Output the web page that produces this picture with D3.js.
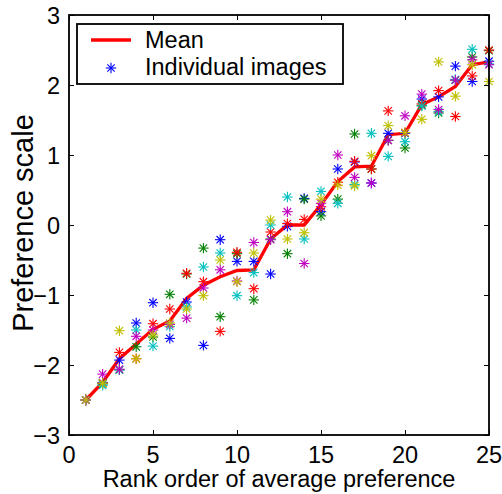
<!DOCTYPE html>
<html>
<head>
<meta charset="utf-8">
<script src="https://cdn.jsdelivr.net/npm/d3@7"></script>
<style>
  html, body { margin: 0; padding: 0; background: #fff; }
  svg { display: block; }
  text { font-family: "Liberation Sans", Arial, Helvetica, sans-serif; fill: #000; }
</style>
</head>
<body>
<svg id="chart" width="502" height="494"></svg>
<script>
// ---- data ----
const ranks = [1,2,3,4,5,6,7,8,9,10,11,12,13,14,15,16,17,18,19,20,21,22,23,24,25];
const meanValues = [-2.50,-2.25,-1.91,-1.70,-1.49,-1.37,-1.05,-0.86,-0.74,-0.65,-0.64,-0.20,0.00,0.00,0.29,0.62,0.83,0.84,1.29,1.31,1.72,1.83,1.98,2.29,2.33];
const blueValues    = [-2.50,-2.25,-1.93,-1.40,-1.11,-1.62,-1.10,-1.72,-0.21,-0.52,-0.52,-0.70,-0.02,0.38,0.19,0.80,0.90,0.60,1.31,1.31,1.80,1.83,2.27,2.05,2.34];
const greenValues   = [-2.50,-2.27,-2.07,-1.74,-1.60,-0.99,-0.70,-0.33,-1.31,-0.41,-1.07,-0.20,-0.41,0.37,0.13,0.37,1.30,0.80,1.21,1.10,1.71,1.60,2.07,2.40,2.49];
const redValues     = [-2.50,-2.26,-1.82,-1.91,-1.41,-1.20,-0.69,-0.81,-1.52,-0.39,-0.91,-0.10,0.02,0.08,0.26,0.61,0.91,0.80,1.63,1.32,1.73,1.92,1.55,2.13,2.50];
const cyanValues    = [-2.50,-2.29,-2.07,-1.50,-1.73,-1.45,-1.17,-0.60,-0.40,-1.01,-0.68,0.00,0.40,-0.20,0.48,0.31,0.58,1.31,0.98,1.19,1.70,1.62,2.08,2.51,2.30];
const magentaValues = [-2.50,-2.13,-2.06,-1.59,-1.50,-1.42,-1.33,-0.90,-0.64,-0.80,-0.25,-0.21,0.19,-0.55,0.31,1.00,0.68,0.60,1.21,1.56,1.87,1.65,2.07,2.36,2.29];
const yellowValues  = [-2.50,-2.26,-1.51,-1.91,-1.57,-1.40,-1.20,-1.01,-0.50,-0.81,-0.40,0.07,-0.20,-0.11,0.37,0.57,0.56,0.99,1.42,1.32,1.51,2.33,1.84,2.29,2.05];
const xTicks = [0,5,10,15,20,25];
const yTicks = [-3,-2,-1,0,1,2,3];
const legendLabels = ["Mean", "Individual images"];
const xLabel = "Rank order of average preference";
const yLabel = "Preference scale";

const observers = [
  {color: "#0000ff", values: blueValues},
  {color: "#008000", values: greenValues},
  {color: "#ff0000", values: redValues},
  {color: "#00bfbf", values: cyanValues},
  {color: "#bf00bf", values: magentaValues},
  {color: "#bfbf00", values: yellowValues}
];

// ---- layout ----
const L = 69, R = 489, T = 15, B = 435;
const svg = d3.select("#chart");
const x = d3.scaleLinear().domain([0, 25]).range([L, R]);
const y = d3.scaleLinear().domain([-3, 3]).range([B, T]);
const fs = 23.5;

// star marker (MATLAB '*')
function star(g, cx, cy, color) {
  const a = 5.2, d = 3.7;
  const s = g.append("g").attr("stroke", color).attr("stroke-width", 1.1);
  s.append("line").attr("x1", cx - a).attr("x2", cx + a).attr("y1", cy).attr("y2", cy);
  s.append("line").attr("x1", cx).attr("x2", cx).attr("y1", cy - a).attr("y2", cy + a);
  s.append("line").attr("x1", cx - d).attr("x2", cx + d).attr("y1", cy - d).attr("y2", cy + d);
  s.append("line").attr("x1", cx - d).attr("x2", cx + d).attr("y1", cy + d).attr("y2", cy - d);
}

// mean line
const line = d3.line().x((d, i) => x(ranks[i])).y(d => y(d));
svg.append("path").datum(meanValues)
  .attr("d", line).attr("fill", "none").attr("stroke", "#ff0000")
  .attr("stroke-width", 3.3).attr("stroke-linejoin", "miter");

// individual points
const pts = svg.append("g");
observers.forEach(o => {
  o.values.forEach((v, i) => star(pts, x(ranks[i]), y(v), o.color));
});

// axes box
const axisG = svg.append("g");
const xAxisB = d3.axisBottom(x).tickValues(xTicks).tickSize(-5).tickFormat("");
const xAxisT = d3.axisTop(x).tickValues(xTicks).tickSize(-5).tickFormat("");
const yAxisL = d3.axisLeft(y).tickValues(yTicks).tickSize(-5).tickFormat("");
const yAxisR = d3.axisRight(y).tickValues(yTicks).tickSize(-5).tickFormat("");
[[xAxisB, `translate(0,${B})`], [xAxisT, `translate(0,${T})`], [yAxisL, `translate(${L},0)`], [yAxisR, `translate(${R},0)`]]
  .forEach(([ax, tr]) => {
    const g = axisG.append("g").attr("transform", tr).call(ax);
    g.select(".domain").remove();
    g.selectAll(".tick line").attr("stroke", "#000").attr("stroke-width", 1);
  });
axisG.append("rect").attr("x", L).attr("y", T).attr("width", R - L).attr("height", B - T)
  .attr("fill", "none").attr("stroke", "#000").attr("stroke-width", 1.8);

// tick labels
svg.append("g").selectAll("text").data(xTicks).join("text")
  .attr("x", d => x(d)).attr("y", 463).attr("text-anchor", "middle")
  .style("font-size", fs + "px").text(d => d);
svg.append("g").selectAll("text").data(yTicks).join("text")
  .attr("x", 60).attr("y", d => y(d) + 8.5).attr("text-anchor", "end")
  .style("font-size", fs + "px").text(d => d < 0 ? "\u2212" + Math.abs(d) : d);

// axis labels
svg.append("text").attr("x", 279).attr("y", 487).attr("text-anchor", "middle")
  .style("font-size", fs + "px").text(xLabel);
svg.append("text").attr("transform", `translate(33,223) rotate(-90)`)
  .attr("text-anchor", "middle").style("font-size", "29px").text(yLabel);

// legend
const lg = svg.append("g");
lg.append("rect").attr("x", 77).attr("y", 24).attr("width", 266).attr("height", 60)
  .attr("fill", "#fff").attr("stroke", "#000").attr("stroke-width", 1.8);
lg.append("line").attr("x1", 91).attr("x2", 131).attr("y1", 40).attr("y2", 40)
  .attr("stroke", "#ff0000").attr("stroke-width", 3.3);
star(lg, 111, 68, "#0000ff");
lg.append("text").attr("x", 145).attr("y", 48).style("font-size", fs + "px").text(legendLabels[0]);
lg.append("text").attr("x", 145).attr("y", 75).style("font-size", fs + "px").text(legendLabels[1]);
</script>
</body>
</html>
